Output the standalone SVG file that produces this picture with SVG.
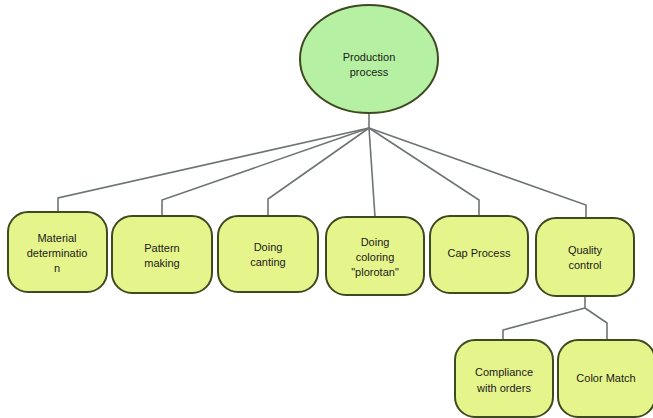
<svg xmlns="http://www.w3.org/2000/svg" width="653" height="418" viewBox="0 0 653 418">
<style>
.box{fill:#e6f48c;stroke:#3d4a22;stroke-width:2}
.ell{fill:#b6f0a2;stroke:#3d4a22;stroke-width:2}
.t{font-family:"Liberation Sans",Arial,sans-serif;font-size:11px;fill:#1a1a1a;text-anchor:middle}
.c{fill:none;stroke:#6e7474;stroke-width:1.6}
</style>
<rect width="653" height="418" fill="#ffffff"/>
<g id="connectors">
<polyline class="c" points="369,113 369,128"/>
<polyline class="c" points="369,128 58,198 58,212"/>
<polyline class="c" points="369,128 162,200 162,216"/>
<polyline class="c" points="369,128 268,199 268,216"/>
<polyline class="c" points="369,128 375,217"/>
<polyline class="c" points="369,128 479,200 479,216"/>
<polyline class="c" points="369,128 586,205 586,218"/>
<polyline class="c" points="585,296 585,308"/>
<polyline class="c" points="585,308 503,330 503,340"/>
<polyline class="c" points="585,308 607,323 607,340"/>
</g>
<g id="production">
<ellipse class="ell" cx="369" cy="59" rx="69" ry="54"/>
<text class="t" x="369" y="61">Production</text>
<text class="t" x="369" y="76">process</text>
</g>
<g id="material">
<rect class="box" x="8" y="212" width="99" height="80" rx="20"/>
<text class="t" x="57" y="242">Material</text>
<text class="t" x="57" y="257">determinatio</text>
<text class="t" x="57" y="272">n</text>
</g>
<g id="pattern">
<rect class="box" x="112" y="216" width="100" height="77" rx="20"/>
<text class="t" x="162" y="252">Pattern</text>
<text class="t" x="162" y="267">making</text>
</g>
<g id="canting">
<rect class="box" x="218" y="216" width="100" height="76" rx="20"/>
<text class="t" x="268" y="251">Doing</text>
<text class="t" x="268" y="266">canting</text>
</g>
<g id="coloring">
<rect class="box" x="326" y="217" width="98" height="78" rx="20"/>
<text class="t" x="375" y="246">Doing</text>
<text class="t" x="375" y="261">coloring</text>
<text class="t" x="375" y="276">"plorotan"</text>
</g>
<g id="cap">
<rect class="box" x="430" y="216" width="98" height="77" rx="20"/>
<text class="t" x="479" y="257">Cap Process</text>
</g>
<g id="quality">
<rect class="box" x="536" y="218" width="98" height="78" rx="20"/>
<text class="t" x="585" y="254">Quality</text>
<text class="t" x="585" y="269">control</text>
</g>
<g id="compliance">
<rect class="box" x="455" y="340" width="98" height="77" rx="20"/>
<text class="t" x="504" y="376">Compliance</text>
<text class="t" x="504" y="392">with orders</text>
</g>
<g id="colormatch">
<rect class="box" x="558" y="340" width="97" height="77" rx="20"/>
<text class="t" x="606" y="382">Color Match</text>
</g>
</svg>
